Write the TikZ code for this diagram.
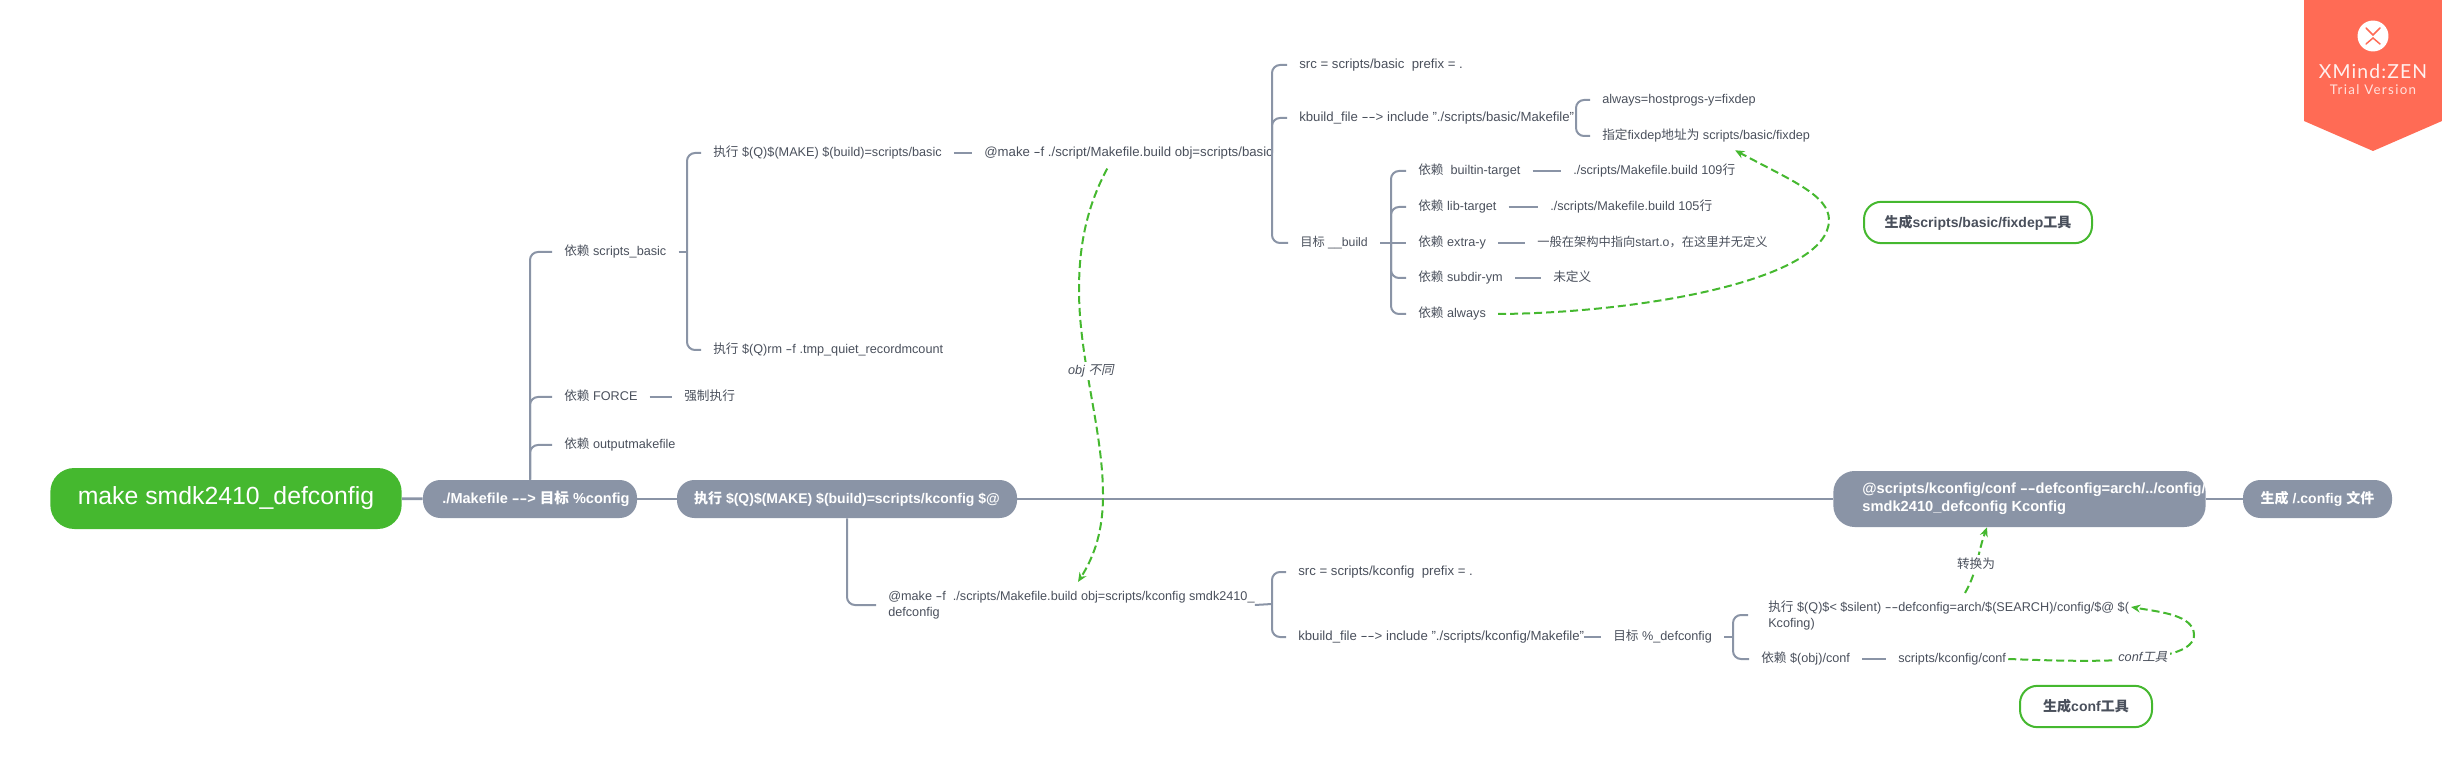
\documentclass[tikz,border=0pt]{standalone}
\usepackage{fontspec}
\setmainfont{Liberation Sans}
\newfontfamily\cjk{Noto Sans CJK SC}
\newfontfamily\cjkit[FakeSlant=0.2]{Noto Sans CJK SC}
\newfontfamily\logofont[LetterSpace=6]{Lato}
\newfontfamily\logospaced[LetterSpace=10]{Lato}
\usetikzlibrary{arrows.meta}
\definecolor{linkgray}{HTML}{8A94A6}
\definecolor{textgray}{HTML}{4A505C}
\definecolor{xgreen}{HTML}{45B82F}
\definecolor{logored}{HTML}{FF6B55}
\newcommand\zh[1]{{\cjk #1}}
\newcommand\zhit[1]{{\cjkit #1}}
\newcommand\hy{\scalebox{1.6}[1]{-}}
\tikzset{
	lab/.style={anchor=west,inner xsep=9pt,inner ysep=0pt,minimum height=21pt,text=textgray,font=\fontsize{9.5}{12}\selectfont,text height=7.5pt,text depth=2.25pt},
	labwide/.style={lab,font=\fontsize{9.9}{12}\selectfont},
	labnarrow/.style={lab,font=\fontsize{9.2}{12}\selectfont},
	labtwo/.style={anchor=west,inner xsep=9pt,inner ysep=3pt,text=textgray,font=\fontsize{9.5}{12}\selectfont,align=left},
	topic/.style={rounded corners=13pt,fill=linkgray,text=white,minimum height=28.5pt,inner xsep=0pt,font=\fontsize{10.5}{13.5}\selectfont\bfseries},
	genbox/.style={rounded corners=13pt,draw=xgreen,line width=1.5pt,fill=white,minimum height=31pt,text=textgray,inner xsep=0pt,font=\fontsize{10.5}{13}\selectfont\bfseries},
	link/.style={draw=linkgray,line width=1.5pt,rounded corners=6pt},
	flow/.style={draw=xgreen,line width=1.5pt,dash pattern=on 6pt off 3pt,-{Stealth[length=7pt,width=6pt]}},
	note/.style={fill=white,inner sep=2pt,text=textgray,font=\fontsize{9.5}{12}\selectfont\itshape}
}
\begin{document}
\begin{tikzpicture}[x=.75pt,y=-.75pt]
	\useasboundingbox (0,0) rectangle (2442,780);
	\node[rounded corners=18pt,fill=xgreen,text=white,minimum width=263.5pt,minimum height=45.75pt,inner xsep=0pt,font=\fontsize{18.6}{20}\selectfont] (root) at (226,498.5) {make smdk2410\_defconfig};
	\node[topic,minimum width=160.5pt,font=\fontsize{10.9}{13.5}\selectfont\bfseries] (config) at (530,499) {\hspace*{9pt}./Makefile \hy\hy> \zh{目标} \%config};
	\node[topic,minimum width=255pt] (kconfig) at (847,499) {\zh{执行} \$(Q)\$(MAKE) \$(build)=scripts/kconfig \$@};
	\node[topic,minimum width=276.75pt,minimum height=42pt,rounded corners=16pt,align=left,font=\fontsize{11}{13.5}\selectfont\bfseries] (conf) at (2019.5,499) {\hspace*{21.75pt}@scripts/kconfig/conf \hy\hy defconfig=arch/../config/\\\hspace*{21.75pt}smdk2410\_defconfig Kconfig};
	\node[topic,minimum width=111.75pt] (final) at (2317.5,499) {\zh{生成} /.config \zh{文件}};
	\draw[linkgray,line width=2pt] (root) -- (config);
	\draw[linkgray,line width=2pt] (config) -- (kconfig);
	\draw[linkgray,line width=2pt] (kconfig) -- (conf);
	\draw[linkgray,line width=2pt] (conf) -- (final);

	\node[lab] (depbasic) at (552,252) {\zh{依赖} scripts\_basic};
	\node[lab] (depforce) at (552,397) {\zh{依赖} FORCE};
	\node[lab] (force) at (672,397) {\zh{强制执行}};
	\node[lab] (depout) at (552,445) {\zh{依赖} outputmakefile};
	\draw[link] (config.north) |- (depbasic.west);
	\draw[link] (config.north) |- (depforce.west);
	\draw[link] (config.north) |- (depout.west);
	\draw[link] (depforce) -- (force);

	\node[lab] (execbasic) at (701,153) {\zh{执行} \$(Q)\$(MAKE) \$(build)=scripts/basic};
	\node[lab] (execrm) at (701,350) {\zh{执行} \$(Q)rm \hy f .tmp\_quiet\_recordmcount};
	\node[labwide] (makebasic) at (972,153) {@make \hy f ./script/Makefile.build obj=scripts/basic};
	\coordinate (spinebasic) at (687,252);
	\draw[link] (depbasic) -- (spinebasic);
	\draw[link] (execbasic.west) -| (spinebasic) |- (execrm.west);
	\draw[link] (execbasic) -- (makebasic);

	\node[labwide] (srcbasic) at (1287,65) {src = scripts/basic\ \ prefix = .};
	\node[labwide] (kbbasic) at (1287,118) {kbuild\_file \hy\hy> include "./scripts/basic/Makefile"};
	\node[labnarrow] (build) at (1288,243) {\zh{目标} \_\_build};
	\coordinate (spinemake) at (1272,153);
	\draw[link] ([xshift=-9pt]makebasic.east) -- (spinemake);
	\draw[link] (srcbasic.west) -| (spinemake) |- (build.west);
	\draw[link] (spinemake) |- (kbbasic.west);

	\node[lab] (always) at (1590,100) {always=hostprogs-y=fixdep};
	\node[lab] (fix) at (1590,136) {\zh{指定}fixdep\zh{地址为} scripts/basic/fixdep};
	\coordinate (spinekb) at (1576,118);
	\draw[link] (always.west) -| (spinekb) |- (fix.west);

	\node[lab] (depbuiltin) at (1406,171) {\zh{依赖}\ \ builtin-target};
	\node[lab] (deplib) at (1406,207) {\zh{依赖} lib-target};
	\node[lab] (depextra) at (1406,243) {\zh{依赖} extra-y};
	\node[lab] (depsubdir) at (1406,278) {\zh{依赖} subdir-ym};
	\node[lab] (depalways) at (1406,314) {\zh{依赖} always};
	\node[lab] (line109) at (1561,171) {./scripts/Makefile.build 109\zh{行}};
	\node[lab] (line105) at (1538,207) {./scripts/Makefile.build 105\zh{行}};
	\node[labnarrow] (extranote) at (1525,243) {\zh{一般在架构中指向}start.o\zh{，在这里并无定义}};
	\node[lab] (subdirnote) at (1541,278) {\zh{未定义}};
	\coordinate (spinebuild) at (1391,243);
	\draw[link] (build) -- (depextra);
	\draw[link] (depbuiltin.west) -| (spinebuild) |- (depalways.west);
	\draw[link] (spinebuild) |- (deplib.west);
	\draw[link] (spinebuild) |- (depsubdir.west);
	\draw[link] (depbuiltin) -- (line109);
	\draw[link] (deplib) -- (line105);
	\draw[link] (depextra) -- (extranote);
	\draw[link] (depsubdir) -- (subdirnote);

	\node[labtwo] (makekconfig) at (876,605) {@make \hy f\ \ ./scripts/Makefile.build obj=scripts/kconfig smdk2410\_\\defconfig};
	\node[labwide] (srckconfig) at (1286,572) {src = scripts/kconfig\ \ prefix = .};
	\node[labwide] (kbkconfig) at (1286,637) {kbuild\_file \hy\hy> include "./scripts/kconfig/Makefile"};
	\node[lab] (target) at (1601,637) {\zh{目标} \%\_defconfig};
	\node[labtwo] (execconf) at (1756,615) {\zh{执行} \$(Q)\$< \$silent) \hy\hy defconfig=arch/\$(SEARCH)/config/\$@ \$(\\Kcofing)};
	\node[lab] (depconf) at (1749,659) {\zh{依赖} \$(obj)/conf};
	\node[lab] (conftool) at (1886,659) {scripts/kconfig/conf};
	\coordinate (spinekc) at (1272,604);
	\coordinate (spinetarget) at (1733,637);
	\draw[link] (kconfig.south) |- (makekconfig.west);
	\draw[link] ([xshift=-9pt]makekconfig.east) -- (spinekc);
	\draw[link] (srckconfig.west) -| (spinekc) |- (kbkconfig.west);
	\draw[link] ([xshift=-9pt]kbkconfig.east) -- (target);
	\draw[link] (target) -- (spinetarget);
	\draw[link] ([xshift=-6pt]execconf.west) -| (spinetarget) |- (depconf.west);
	\draw[link] (depconf) -- (conftool);

	\node[genbox,minimum width=171pt] (genfix) at (1978,222.5) {\zh{生成}scripts/basic/fixdep\zh{工具}};
	\node[genbox,minimum width=99pt] (genconf) at (2086,706.5) {\zh{生成}conf\zh{工具}};

	\draw[flow] (depalways.east) .. controls (1640,313) and (1829,280) .. (1829,220) .. controls (1829,195) and (1790,180) .. ([xshift=21.75pt]fix.south);
	\draw[flow] ([xshift=-16pt,yshift=-1pt]makebasic.south) .. controls (1085,210) and (1079,250) .. (1079,290) .. controls (1079,360) and (1103,430) .. (1103,495) .. controls (1103,530) and (1095,555) .. (1078,582);
	\node[note] (objnote) at (1091,371) {obj \zhit{不同}};
	\coordinate (kcend) at (2131,607);
	\draw[flow] ([xshift=-7.5pt]conftool.east) .. controls (2090,662) and (2194,665) .. (2194,635) .. controls (2194,615) and (2160,612) .. (kcend);
	\node[note] (confnote) at (2143,657) {conf\zhit{工具}};
	\coordinate (kcstart) at (1965,593);
	\draw[flow] (kcstart) .. controls (1978,570) and (1977,555) .. ([xshift=-24.4pt]conf.south);
	\node[note] (turnnote) at (1976,564) {\zh{转换为}};

	\fill[logored] (2304,0) -- (2442,0) -- (2442,121) -- (2373,151) -- (2304,121) -- cycle;
	\fill[white] (2373,36) circle (11.6pt);
	\draw[logored,line width=1.1pt,line cap=round] (2366,28) -- (2373,35) -- (2380,28) (2366,44) -- (2373,38) -- (2380,44);
	\node[text=white,opacity=.9,inner sep=0pt,font=\fontsize{14.5}{16}\logofont] (logotitle) at (2373,71) {XMind:ZEN};
	\node[text=white,opacity=.8,inner sep=0pt,font=\fontsize{10}{12}\logospaced] (logotrial) at (2373,90) {Trial Version};
\end{tikzpicture}
\end{document}
